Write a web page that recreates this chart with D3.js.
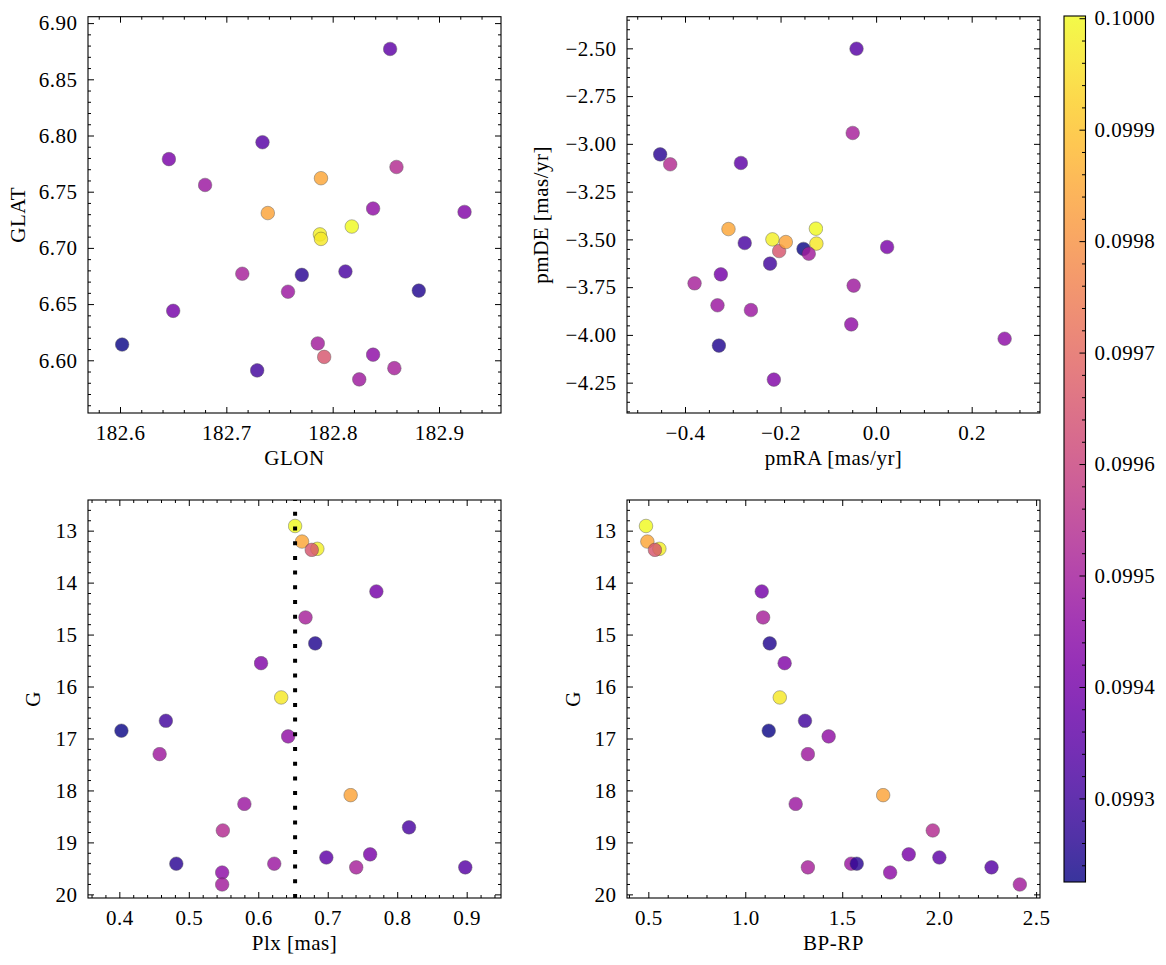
<!DOCTYPE html>
<html><head><meta charset="utf-8">
<script src="https://cdn.jsdelivr.net/npm/d3@7"></script>
<style>
body{margin:0;background:#fff;}
svg text{font-family:"Liberation Serif","DejaVu Serif","Times New Roman",serif !important;fill:#000;}
</style></head><body>
<svg id="chart" width="1166" height="965"></svg>
<script>
// ---- star data (one entry per star) ----
const starGLON = [182.818,182.789,182.788,182.792,182.650,182.858,182.881,182.924,182.789,182.729,182.602,182.838,182.825,182.739,182.680,182.812,182.860,182.646,182.854,182.758,182.771,182.715,182.734,182.838,182.786];
const starGLAT = [6.719,6.762,6.712,6.603,6.644,6.593,6.662,6.732,6.708,6.591,6.614,6.735,6.583,6.731,6.756,6.679,6.772,6.779,6.877,6.661,6.676,6.677,6.794,6.605,6.615];
const starPMRA = [-0.126,-0.309,-0.217,-0.203,-0.325,-0.380,-0.329,-0.214,-0.125,-0.222,-0.152,-0.052,-0.047,-0.189,-0.332,-0.275,-0.431,0.023,-0.283,-0.262,-0.452,-0.049,-0.041,0.269,-0.141];
const starPMDE = [-3.444,-3.446,-3.500,-3.561,-3.683,-3.730,-4.056,-4.234,-3.522,-3.627,-3.550,-3.945,-3.742,-3.514,-3.845,-3.519,-3.107,-3.540,-3.100,-3.870,-3.055,-2.943,-2.502,-4.020,-3.575];
const starPlx  = [0.653,0.663,0.685,0.677,0.770,0.668,0.682,0.604,0.633,0.467,0.403,0.643,0.458,0.733,0.580,0.817,0.549,0.761,0.698,0.623,0.482,0.741,0.898,0.548,0.548];
const starG    = [12.91,13.21,13.35,13.37,14.17,14.67,15.17,15.55,16.21,16.66,16.85,16.96,17.30,18.09,18.26,18.71,18.77,19.23,19.29,19.41,19.41,19.48,19.48,19.58,19.81];
const starBPRP = [0.488,0.495,0.557,0.534,1.085,1.092,1.126,1.203,1.178,1.308,1.121,1.430,1.323,1.711,1.260,null,1.967,1.843,2.001,1.546,1.575,1.323,2.270,1.747,2.416];
const starProb = [0.100002,0.099847,0.099986,0.099652,0.099404,0.099505,0.099248,0.099427,0.099971,0.099303,0.099225,0.099458,0.099489,0.099839,0.099481,0.099318,0.099536,0.099411,0.099357,0.099481,0.099264,0.099505,0.099342,0.099450,0.099497];
const plxRef = 0.653;

// ---- axis limits & tick labels ----
const glonLim = [182.5699, 182.9583], glonTicks = [182.6, 182.7, 182.8, 182.9];
const glatLim = [6.5531, 6.9057],     glatTicks = [6.60, 6.65, 6.70, 6.75, 6.80, 6.85, 6.90];
const pmraLim = [-0.5214, 0.343],     pmraTicks = [-0.4, -0.2, 0.0, 0.2];
const pmdeLim = [-4.4088, -2.3344],   pmdeTicks = [-4.25, -4.00, -3.75, -3.50, -3.25, -3.00, -2.75, -2.50];
const plxLim  = [0.3549, 0.9494],     plxTicks  = [0.4, 0.5, 0.6, 0.7, 0.8, 0.9];
const gLim    = [12.41, 20.07],       gTicks    = [13, 14, 15, 16, 17, 18, 19, 20];
const bprpLim = [0.39, 2.52],         bprpTicks = [0.5, 1.0, 1.5, 2.0, 2.5];
const cbarTicks = [0.0993, 0.0994, 0.0995, 0.0996, 0.0997, 0.0998, 0.0999, 0.1000];

const svg = d3.select("#chart");
const FONT = "'Liberation Serif','DejaVu Serif',serif";
const FS = 21, LS = "0.5px";
const stars = starG.map((g,i)=>({glon:starGLON[i],glat:starGLAT[i],pmra:starPMRA[i],pmde:starPMDE[i],plx:starPlx[i],g:g,bprp:starBPRP[i],p:starProb[i]}));
const cDom = d3.extent(starProb);
const cNorm = d3.scaleLinear().domain(cDom).range([0,1]);
const color = v => d3.interpolatePlasma(cNorm(v));

function minorVals(lim, step, majors){
  const out=[]; const s0=Math.ceil(lim[0]/step-1e-9);
  for(let k=s0; k*step<=lim[1]+1e-12; k++){
    const v=+(k*step).toFixed(8);
    if(!majors.some(m=>Math.abs(m-v)<step*1e-3)) out.push(v);
  }
  return out;
}
function styleText(sel){ sel.attr("font-size",FS).style("font-family",FONT).style("letter-spacing",LS); }

const panels = [
  {kx:"glon",ky:"glat",left:88,top:16.7,w:413,h:396.3,xl:glonLim,yl:glatLim,xt:glonTicks,yt:glatTicks,xm:0.02,ym:0.01,xf:".1f",yf:".2f",xlab:"GLON",ylab:"GLAT",ylx:-70,inv:false},
  {kx:"pmra",ky:"pmde",left:627,top:16.7,w:413,h:396.3,xl:pmraLim,yl:pmdeLim,xt:pmraTicks,yt:pmdeTicks,xm:0.05,ym:0.05,xf:".1f",yf:".2f",xlab:"pmRA [mas/yr]",ylab:"pmDE [mas/yr]",ylx:-86.5,inv:false},
  {kx:"plx",ky:"g",left:88,top:500,w:413,h:398,xl:plxLim,yl:gLim,xt:plxTicks,yt:gTicks,xm:0.02,ym:0.2,xf:".1f",yf:"d",xlab:"Plx [mas]",ylab:"G",ylx:-55,inv:true,vline:plxRef},
  {kx:"bprp",ky:"g",left:627,top:500,w:413,h:398,xl:bprpLim,yl:gLim,xt:bprpTicks,yt:gTicks,xm:0.1,ym:0.2,xf:".1f",yf:"d",xlab:"BP-RP",ylab:"G",ylx:-54,inv:true}
];

panels.forEach(P=>{
  const g = svg.append("g").attr("transform",`translate(${P.left},${P.top})`);
  const x = d3.scaleLinear().domain(P.xl).range([0,P.w]);
  const y = d3.scaleLinear().domain(P.yl).range(P.inv?[0,P.h]:[P.h,0]);
  const data = stars.filter(d=>d[P.kx]!=null && d[P.ky]!=null);
  g.append("g").selectAll("circle").data(data).join("circle")
    .attr("cx",d=>x(d[P.kx])).attr("cy",d=>y(d[P.ky])).attr("r",6.8)
    .attr("fill",d=>color(d.p)).attr("stroke","#3a3a3a").attr("stroke-width",0.45)
    .attr("opacity",0.82);
  if(P.vline!=null){
    g.append("line").attr("x1",x(P.vline)).attr("x2",x(P.vline)).attr("y1",P.h).attr("y2",0)
      .attr("stroke","#000").attr("stroke-width",4).attr("stroke-dasharray","4,10.7");
  }
  const xMin = minorVals(P.xl,P.xm,P.xt), yMin = minorVals(P.yl,P.ym,P.yt);
  const ax = [
    [d3.axisBottom(x).tickValues(P.xt).tickFormat(d3.format(P.xf)).tickSizeInner(-6).tickPadding(12),`translate(0,${P.h})`],
    [d3.axisTop(x).tickValues(P.xt).tickFormat("").tickSizeInner(-6),`translate(0,0)`],
    [d3.axisLeft(y).tickValues(P.yt).tickFormat(d3.format(P.yf)).tickSizeInner(-6).tickPadding(10.5),`translate(0,0)`],
    [d3.axisRight(y).tickValues(P.yt).tickFormat("").tickSizeInner(-6),`translate(${P.w},0)`],
    [d3.axisBottom(x).tickValues(xMin).tickFormat("").tickSizeInner(-3),`translate(0,${P.h})`],
    [d3.axisTop(x).tickValues(xMin).tickFormat("").tickSizeInner(-3),`translate(0,0)`],
    [d3.axisLeft(y).tickValues(yMin).tickFormat("").tickSizeInner(-3),`translate(0,0)`],
    [d3.axisRight(y).tickValues(yMin).tickFormat("").tickSizeInner(-3),`translate(${P.w},0)`]
  ];
  ax.forEach(([a,t])=>{
    const ag = g.append("g").attr("transform",t).call(a.tickSizeOuter(0)).attr("font-family",null);
    ag.select(".domain").remove();
    ag.selectAll("line").attr("stroke","#000").attr("stroke-width",1);
    ag.selectAll("text").call(styleText);
  });
  g.append("rect").attr("width",P.w).attr("height",P.h).attr("fill","none").attr("stroke","#000").attr("stroke-width",1.1);
  g.append("text").attr("x",P.w/2).attr("y",P.h+52).attr("text-anchor","middle").call(styleText).text(P.xlab);
  g.append("text").attr("transform",`translate(${P.ylx},${P.h/2}) rotate(-90)`).attr("text-anchor","middle")
    .attr("dy","0.35em").call(styleText).text(P.ylab);
});

// ---- colorbar ----
const cb = {left:1064, top:16, w:21.5, h:866};
const defs = svg.append("defs");
const grad = defs.append("linearGradient").attr("id","plasma").attr("x1",0).attr("y1",1).attr("x2",0).attr("y2",0);
d3.range(0,1.0001,0.05).forEach(t=>grad.append("stop").attr("offset",t).attr("stop-color",d3.interpolatePlasma(t)));
const cg = svg.append("g").attr("transform",`translate(${cb.left},${cb.top})`);
cg.append("rect").attr("width",cb.w).attr("height",cb.h).attr("fill","url(#plasma)").attr("opacity",0.82);
const cy = d3.scaleLinear().domain(cDom).range([cb.h,0]);
const cMin = minorVals(cDom,0.00002,cbarTicks);
const ca = cg.append("g").attr("transform",`translate(${cb.w},0)`)
  .call(d3.axisRight(cy).tickValues(cbarTicks).tickFormat(d3.format(".4f")).tickSizeInner(-6).tickSizeOuter(0).tickPadding(9)).attr("font-family",null);
ca.select(".domain").remove();
ca.selectAll("line").attr("stroke","#000");
ca.selectAll("text").call(styleText);
const cm = cg.append("g").attr("transform",`translate(${cb.w},0)`)
  .call(d3.axisRight(cy).tickValues(cMin).tickFormat("").tickSizeInner(-3.5).tickSizeOuter(0));
cm.select(".domain").remove();
cm.selectAll("line").attr("stroke","#000");
cg.append("rect").attr("width",cb.w).attr("height",cb.h).attr("fill","none").attr("stroke","#000").attr("stroke-width",1.1);
</script>
</body></html>
